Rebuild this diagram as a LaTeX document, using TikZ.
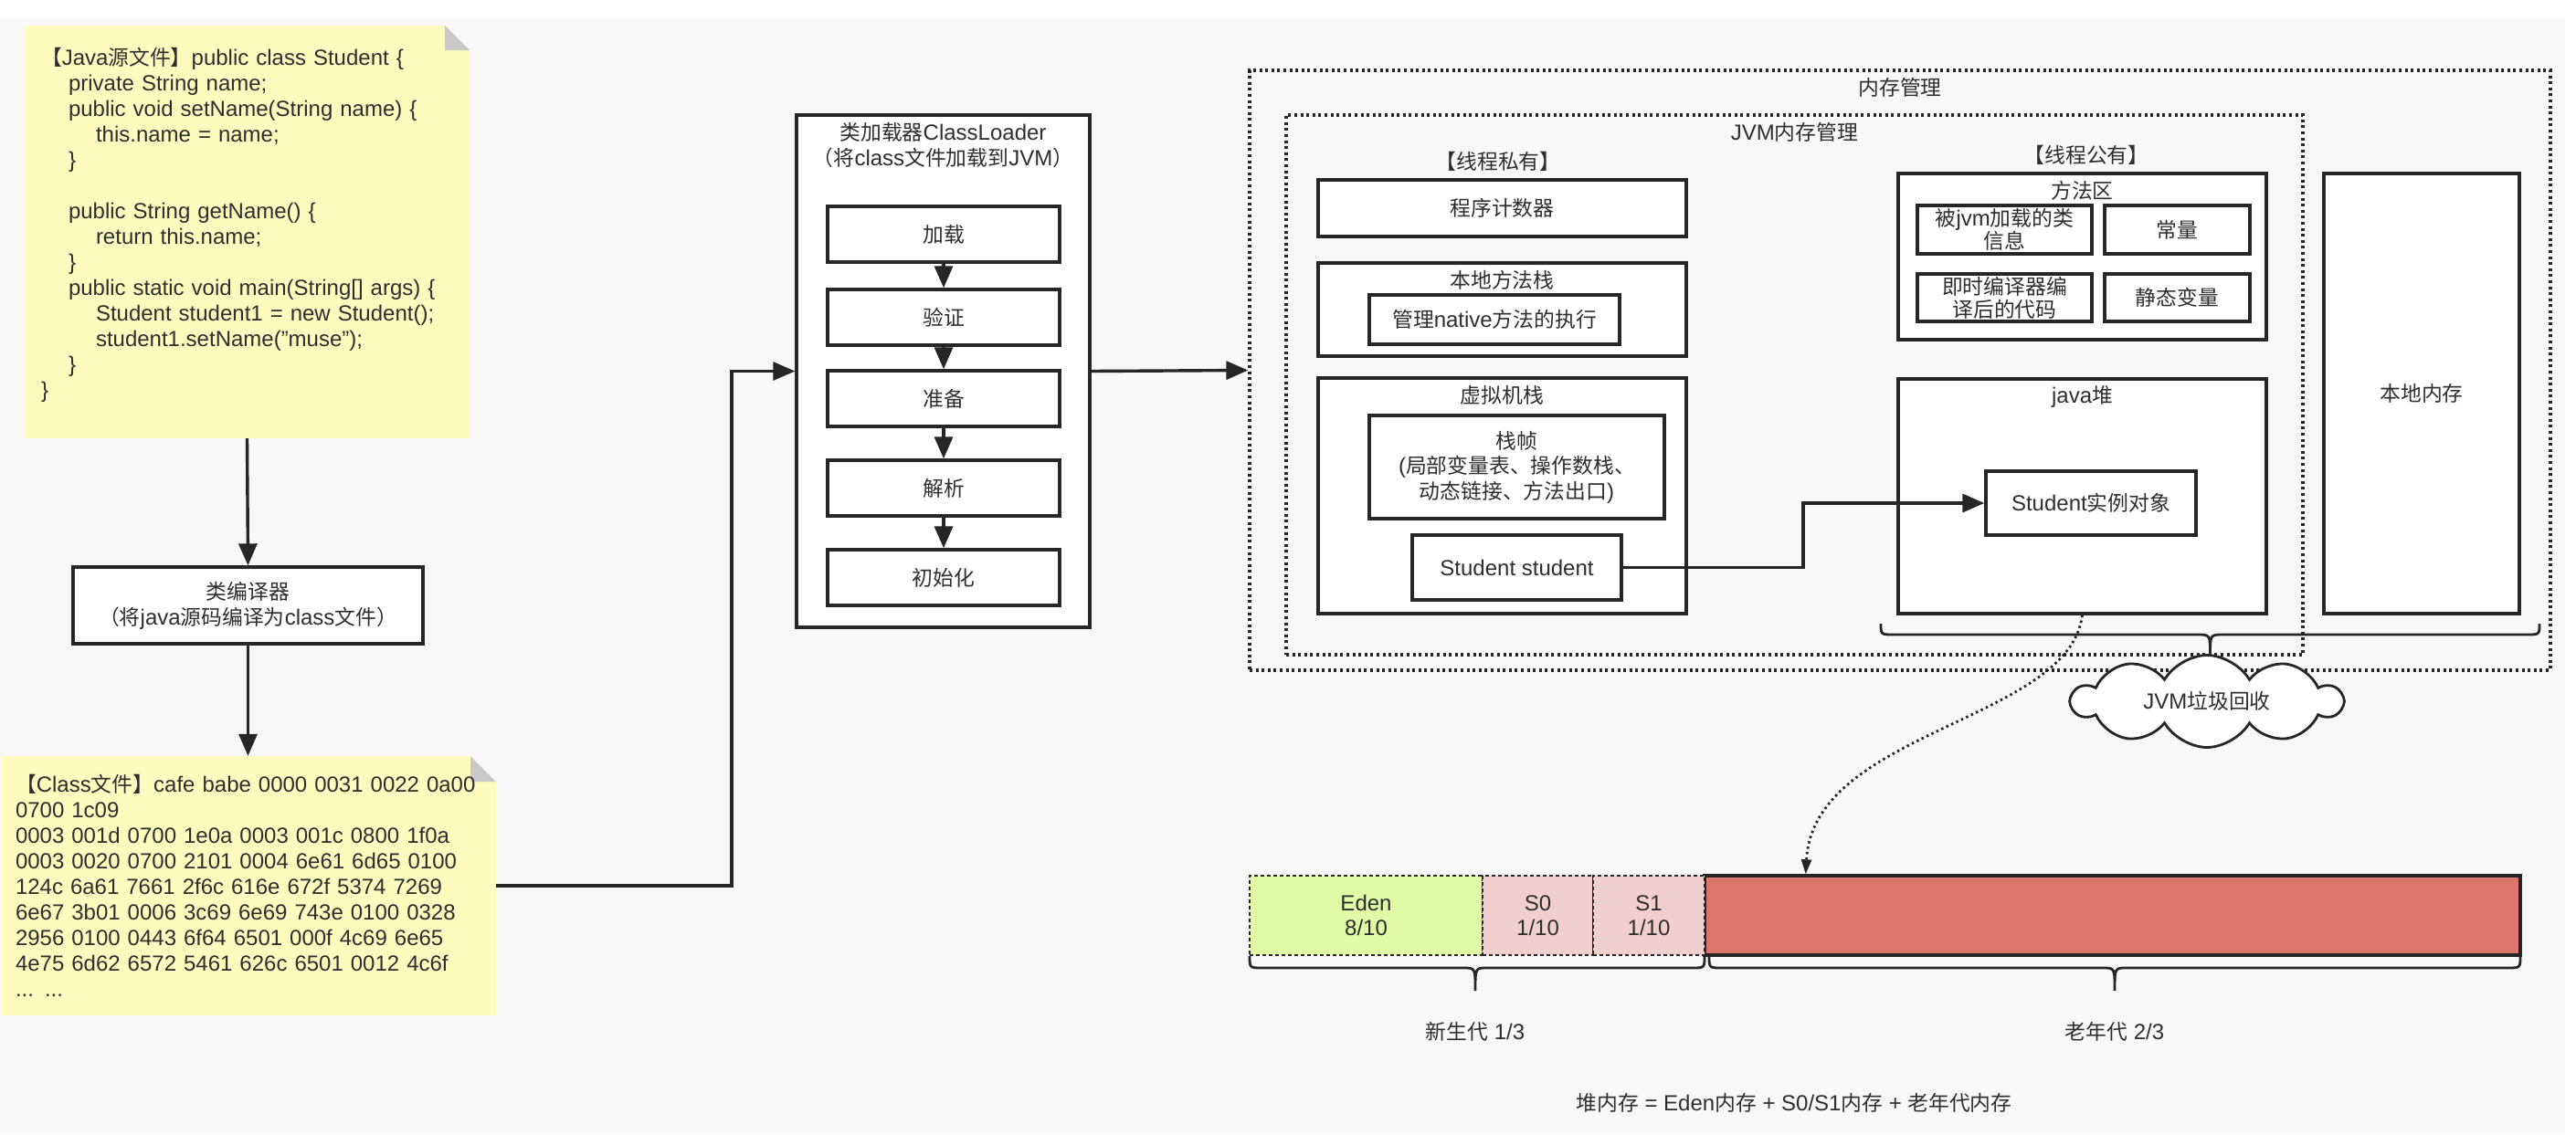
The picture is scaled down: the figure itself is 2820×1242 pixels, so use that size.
\documentclass[tikz,border=0pt]{standalone}
\usepackage{fontspec}
\setmainfont{Liberation Sans}
\newfontfamily\cjkfont[Scale=0.95]{Noto Sans CJK SC}
\usetikzlibrary{arrows.meta,shapes.symbols,calc}
\makeatletter
\newXeTeXintercharclass\CJKcls
\count@="3000
\loop
  \XeTeXcharclass\count@=\CJKcls
  \advance\count@ by 1
\ifnum\count@<"3040 \repeat
\count@="4E00
\loop
  \XeTeXcharclass\count@=\CJKcls
  \advance\count@ by 1
\ifnum\count@<"A000 \repeat
\count@="FF00
\loop
  \XeTeXcharclass\count@=\CJKcls
  \advance\count@ by 1
\ifnum\count@<"FFF0 \repeat
\makeatother
\XeTeXinterchartokenstate=1
\XeTeXinterchartoks 0 \CJKcls = {\cjkfont}
\XeTeXinterchartoks 4095 \CJKcls = {\cjkfont}
\XeTeXinterchartoks \CJKcls 0 = {\rmfamily}
\XeTeXinterchartoks \CJKcls 4095 = {\rmfamily}

\definecolor{bgc}{HTML}{F8F8F8}
\definecolor{notec}{HTML}{FDFCBE}
\definecolor{foldc}{HTML}{C9C9C9}
\definecolor{linec}{HTML}{262626}
\definecolor{txtc}{HTML}{2E2E2E}
\definecolor{edenc}{HTML}{DFFBA6}
\definecolor{survc}{HTML}{F2CFCF}
\definecolor{oldc}{HTML}{DD766C}

\tikzset{
  every node/.style={font=\fontsize{24}{28}\selectfont, text=txtc, align=center},
  box/.style={draw=linec, line width=3.4pt, fill=white, inner sep=0pt},
  dotbox/.style={draw=linec, line width=3.4pt, dash pattern=on 3pt off 3.6pt, inner sep=0pt},
  arr/.style={draw=linec, line width=3.4pt, -{Triangle[length=24pt,width=20pt]}},
  plain/.style={draw=linec, line width=2.8pt},
  lbl/.style={inner sep=0pt},
  note/.style={fill=notec, align=left},
  fold/.style={path picture={
      \fill[bgc] (path picture bounding box.north east) -- ++(-#1,0) -- ++(#1,#1) -- cycle;
      \fill[foldc] ($(path picture bounding box.north east)+(-#1,0)$) -- ++(0,#1) -- ++(#1,0) -- cycle;}},
  heapcell/.style={draw=linec, line width=2.8pt, dash pattern=on 4pt off 3pt, inner sep=0pt, minimum height=87pt, font=\fontsize{24}{27}\selectfont}
}

\begin{document}
\begin{tikzpicture}[x=1pt,y=-1pt]
\useasboundingbox (0,0) rectangle (2820,1242);
\fill[white] (0,0) rectangle (2820,1242);
\fill[bgc] (0,20) rectangle (2808,1242);

% ---- Java source note
\node[note, fold=27, minimum width=487pt, minimum height=452pt, inner xsep=18pt, inner ysep=0pt, text width=451pt] (javanote) at (270.5,254) {%
【Java源文件】public class Student \{\\
\hspace*{30pt}private String name;\\
\hspace*{30pt}public void setName(String name) \{\\
\hspace*{60pt}this.name = name;\\
\hspace*{30pt}\}\\[28pt]
\hspace*{30pt}public String getName() \{\\
\hspace*{60pt}return this.name;\\
\hspace*{30pt}\}\\
\hspace*{30pt}public static void main(String[] args) \{\\
\hspace*{60pt}Student student1 = new Student();\\
\hspace*{60pt}student1.setName("muse");\\
\hspace*{30pt}\}\\
\}\vspace*{16pt}};

% ---- compiler
\node[box, minimum width=383pt, minimum height=84pt] (compiler) at (271.5,663) {类编译器\\（将java源码编译为class文件）};

% ---- class file note
\node[note, fold=28, minimum width=541pt, minimum height=284pt, inner xsep=15pt, inner ysep=0pt, text width=511pt] (classnote) at (272.5,970) {%
【Class文件】cafe babe 0000 0031 0022 0a00\\
0700 1c09\\
0003 001d 0700 1e0a 0003 001c 0800 1f0a\\
0003 0020 0700 2101 0004 6e61 6d65 0100\\
124c 6a61 7661 2f6c 616e 672f 5374 7269\\
6e67 3b01 0006 3c69 6e69 743e 0100 0328\\
2956 0100 0443 6f64 6501 000f 4c69 6e65\\
4e75 6d62 6572 5461 626c 6501 0012 4c6f\\
... ...};

% ---- class loader
\node[box, minimum width=321pt, minimum height=561pt] (cl) at (1032.5,406.5) {};
\node[lbl] (cltitle) at (1032.5,159) {类加载器ClassLoader\\（将class文件加载到JVM）};
\node[box, minimum width=254pt, minimum height=61pt] (s1) at (1033,256.5) {加载};
\node[box, minimum width=254pt, minimum height=61pt] (s2) at (1033,347.5) {验证};
\node[box, minimum width=254pt, minimum height=61pt] (s3) at (1033,436.5) {准备};
\node[box, minimum width=254pt, minimum height=61pt] (s4) at (1033,534.5) {解析};
\node[box, minimum width=254pt, minimum height=61pt] (s5) at (1033,632.5) {初始化};

% ---- memory management
\node[dotbox, minimum width=1424pt, minimum height=657pt] (mem) at (2080,405.5) {};
\node[lbl] (memtitle) at (2080,96) {内存管理};
\node[dotbox, minimum width=1113pt, minimum height=591pt] (jvm) at (1964.5,421.5) {};
\node[lbl] (jvmtitle) at (1964.5,145) {JVM内存管理};
\node[lbl] (priv) at (1640,177) {【线程私有】};
\node[lbl] (pub) at (2284,170) {【线程公有】};

\node[box, minimum width=403pt, minimum height=62pt] (pc) at (1644.5,228) {程序计数器};
\node[box, minimum width=403pt, minimum height=102pt] (nms) at (1644.5,339) {};
\node[lbl] (nmstitle) at (1644.5,307) {本地方法栈};
\node[box, minimum width=274pt, minimum height=54pt] (native) at (1636,350) {管理native方法的执行};

\node[box, minimum width=403pt, minimum height=258pt] (vms) at (1644.5,543) {};
\node[lbl] (vmstitle) at (1644.5,433) {虚拟机栈};
\node[box, minimum width=323pt, minimum height=113pt, font=\fontsize{24}{27.5}\selectfont] (frame) at (1660.5,511.5) {栈帧\\(局部变量表、操作数栈、\\动态链接、方法出口)};
\node[box, minimum width=229pt, minimum height=71pt] (stu) at (1660.5,621.5) {Student student};

\node[box, minimum width=403pt, minimum height=182pt] (ma) at (2279.5,281) {};
\node[lbl] (matitle) at (2279.5,209) {方法区};
\node[box, minimum width=191pt, minimum height=53pt, font=\fontsize{24}{25}\selectfont] (clsinfo) at (2194.5,251.5) {被jvm加载的类\\信息};
\node[box, minimum width=159pt, minimum height=53pt] (const) at (2383.5,251.5) {常量};
\node[box, minimum width=191pt, minimum height=52pt, font=\fontsize{24}{25}\selectfont] (jit) at (2194.5,326) {即时编译器编\\译后的代码};
\node[box, minimum width=159pt, minimum height=52pt] (static) at (2383.5,326) {静态变量};

\node[box, minimum width=403pt, minimum height=257pt] (jh) at (2279.5,543.5) {};
\node[lbl] (jhtitle) at (2279.5,434) {java堆};
\node[box, minimum width=230pt, minimum height=70pt] (obj) at (2289,551) {Student实例对象};

\node[box, minimum width=214pt, minimum height=482pt] (local) at (2651,431) {本地内存};

% ---- connectors
\draw[arr] (javanote.south) -- (compiler.north);
\draw[arr] (compiler.south) -- (compiler.south |- classnote.north);
\coordinate (b1) at (801,0);
\draw[arr] (classnote.east) -- (b1 |- classnote.east) -- (b1 |- cl.west) -- (cl.west);
\draw[arr] (cl.east) -- (mem.west);
\draw[arr] (s1.south) -- (s2.north);
\draw[arr] (s2.south) -- (s3.north);
\draw[arr] (s3.south) -- (s4.north);
\draw[arr] (s4.south) -- (s5.north);
\coordinate (b2) at (1974,0);
\draw[arr] (stu.east) -- (b2 |- stu.east) -- (b2 |- obj.west) -- (obj.west);

% ---- top brace and cloud
\draw[plain] (2059,683) .. controls (2059,695) .. (2073,695) -- (2405,695) .. controls (2419.5,695) .. (2419.5,717) .. controls (2419.5,695) .. (2434,695) -- (2766,695) .. controls (2780,695) .. (2780,683);
\node[cloud, draw=linec, line width=2.8pt, fill=white, cloud puffs=10, cloud puff arc=120, cloud ignores aspect, minimum width=295pt, minimum height=101pt, inner sep=0pt] (gc) at (2416,768) {JVM垃圾回收};

% ---- heap bar
\node[draw=linec, line width=3.4pt, fill=oldc, minimum width=893pt, minimum height=87pt, inner sep=0pt] (old) at (2312.5,1002.5) {};
\node[heapcell, fill=edenc, minimum width=255pt] (eden) at (1495.5,1002.5) {Eden\\8/10};
\node[heapcell, fill=survc, minimum width=121pt] (s0) at (1683.5,1002.5) {S0\\1/10};
\node[heapcell, fill=survc, minimum width=122pt] (s1c) at (1805,1002.5) {S1\\1/10};

\draw[linec, line width=2.8pt, dash pattern=on 2.5pt off 3.5pt, -{Triangle[length=16pt,width=11pt]}] (jh.south) .. controls (2265,790) and (1985,800) .. ($(old.north west)!0.1254!(old.north east)$);

% ---- lower braces
\draw[plain] (1368,1047) .. controls (1368,1060) .. (1382,1060) -- (1602,1060) .. controls (1615,1060) .. (1615,1085) .. controls (1615,1060) .. (1628,1060) -- (1852,1060) .. controls (1866,1060) .. (1866,1047);
\draw[plain] (1871,1047) .. controls (1871,1060) .. (1885,1060) -- (2302,1060) .. controls (2315,1060) .. (2315,1085) .. controls (2315,1060) .. (2328,1060) -- (2745,1060) .. controls (2759,1060) .. (2759,1047);

\node[lbl] (young) at (1615,1130) {新生代 1/3};
\node[lbl] (oldlbl) at (2315,1130) {老年代 2/3};
\node[lbl] (formula) at (1964,1208) {堆内存 = Eden内存 + S0/S1内存 + 老年代内存};
\end{tikzpicture}
\end{document}
